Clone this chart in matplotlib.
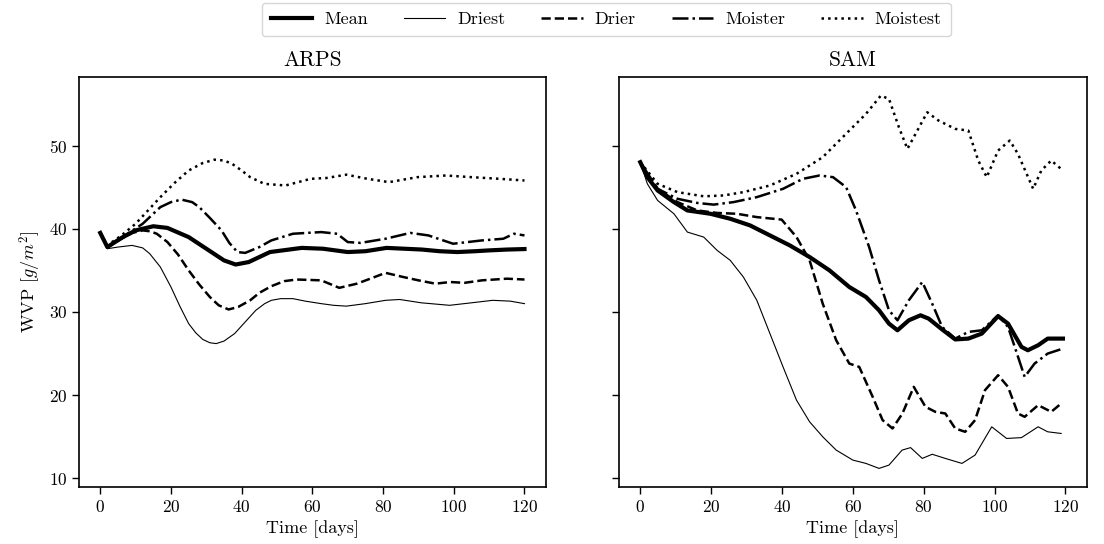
import matplotlib
matplotlib.use("Agg")
import matplotlib.pyplot as plt

plt.rcParams.update({
    "font.family": "serif",
    "font.serif": ["cmr10", "DejaVu Serif"],
    "mathtext.fontset": "cm",
    "axes.formatter.use_mathtext": True,
    "axes.unicode_minus": False,
})

# ---------------- ARPS ----------------
arps_mean_t = [0, 2, 6, 10, 15, 19, 25, 30, 35, 38.3, 42, 48, 57, 63, 70, 75, 81, 86, 91, 96, 101, 106, 110, 115, 120]
arps_mean_v = [39.5, 37.8, 38.9, 39.8, 40.3, 40.1, 39.0, 37.6, 36.2, 35.7, 36.0, 37.2, 37.7, 37.6, 37.2, 37.3, 37.7, 37.6, 37.5, 37.3, 37.2, 37.3, 37.4, 37.5, 37.56]

arps_driest_t = [0, 2, 5, 9, 12, 14, 17, 20, 22.5, 25, 27, 29, 31, 32.8, 35, 38, 41, 44, 46.5, 48.4, 51, 54.5, 58, 62.5, 66, 69.6, 75, 80.7, 84.7, 90.8, 98.8, 105, 111, 116, 120]
arps_driest_v = [39.5, 37.6, 37.8, 38.0, 37.7, 37.0, 35.4, 33.0, 30.7, 28.6, 27.5, 26.7, 26.3, 26.2, 26.5, 27.4, 28.8, 30.2, 31.0, 31.4, 31.6, 31.6, 31.3, 31.0, 30.8, 30.7, 31.0, 31.4, 31.5, 31.1, 30.8, 31.1, 31.4, 31.3, 31.0]

arps_drier_t = [0, 2, 6, 9, 12, 14, 16, 19, 22, 25, 28, 31, 33.5, 36.3, 39, 42.4, 45, 48.4, 52, 55.5, 62.5, 67.6, 72.6, 77, 80.7, 85.7, 90, 94.8, 99, 103, 108, 115, 120]
arps_drier_v = [39.5, 37.8, 38.8, 39.5, 39.8, 39.7, 39.4, 38.4, 36.9, 35.0, 33.3, 31.8, 30.8, 30.3, 30.6, 31.4, 32.3, 33.1, 33.7, 33.9, 33.8, 32.9, 33.4, 34.1, 34.7, 34.2, 33.8, 33.4, 33.6, 33.5, 33.8, 34.0, 33.9]

arps_moister_t = [0, 2, 7, 12, 17, 20, 23, 26, 28, 31, 34.3, 36.5, 38.8, 41, 45, 48.4, 54.5, 62.5, 67, 70, 73.6, 80.7, 87.7, 92.8, 99.8, 108, 114, 117, 120]
arps_moister_v = [39.5, 37.8, 39.2, 40.6, 42.6, 43.2, 43.5, 43.2, 42.6, 41.3, 39.8, 38.3, 37.2, 37.1, 37.8, 38.6, 39.4, 39.6, 39.4, 38.4, 38.3, 38.8, 39.5, 39.2, 38.2, 38.6, 38.8, 39.4, 39.2]

arps_moistest_t = [0, 2, 6, 10, 17, 21, 25, 29, 32.3, 35, 37.3, 40, 42.4, 46.4, 52.4, 59.5, 64, 69.6, 75.6, 81.7, 89.7, 97.8, 105, 113, 120]
arps_moistest_v = [39.5, 38.0, 39.2, 40.6, 43.8, 45.5, 47.0, 47.9, 48.3, 48.2, 47.8, 47.0, 46.2, 45.4, 45.2, 46.0, 46.1, 46.5, 46.0, 45.6, 46.2, 46.4, 46.2, 46.0, 45.8]

# ---------------- SAM ----------------
sam_mean_t = [0, 2, 4.9, 9.5, 13.3, 19.8, 25.4, 31, 36.6, 42.2, 47.8, 53.4, 59, 63.7, 67.4, 70.2, 72.6, 75.8, 79.1, 81.4, 85.2, 88.9, 92.6, 96.4, 101, 103.8, 107.6, 109.4, 112.3, 115, 119.3]
sam_mean_v = [48.0, 46.2, 44.6, 43.2, 42.2, 41.8, 41.2, 40.4, 39.2, 38.0, 36.6, 35.0, 33.0, 31.8, 30.2, 28.6, 27.8, 29.0, 29.6, 29.2, 27.9, 26.7, 26.8, 27.4, 29.5, 28.6, 25.8, 25.4, 26.0, 26.8, 26.8]

sam_driest_t = [0, 2, 4.9, 9.5, 13.3, 17.9, 21.7, 25.4, 29.1, 32.9, 36.6, 40.3, 44.1, 47.8, 51.5, 55.3, 60, 63.7, 67.4, 70.2, 73.9, 76.3, 79.6, 82.4, 86.1, 90.8, 94.5, 99.2, 103.4, 107.6, 112.3, 115, 118.8]
sam_driest_v = [48.0, 45.4, 43.4, 41.8, 39.6, 39.0, 37.4, 36.2, 34.2, 31.4, 27.4, 23.4, 19.4, 16.8, 15.0, 13.4, 12.2, 11.8, 11.2, 11.6, 13.4, 13.7, 12.4, 12.9, 12.4, 11.8, 12.8, 16.2, 14.8, 14.9, 16.2, 15.6, 15.4]

sam_drier_t = [0, 4.9, 10.5, 16.1, 21.7, 27.3, 32.9, 39.9, 44.1, 47.8, 51.5, 55.3, 59, 61.8, 65.6, 68.4, 71.2, 74, 77.2, 80.5, 83.3, 86.1, 88.9, 91.7, 94.5, 97.3, 101, 103.8, 106.6, 108.5, 112.3, 116, 118.8]
sam_drier_v = [48.0, 44.8, 43.2, 42.2, 41.9, 41.8, 41.4, 41.1, 39.0, 36.2, 31.0, 26.6, 23.8, 23.4, 19.8, 17.0, 16.0, 17.8, 21.0, 18.6, 18.0, 17.8, 16.0, 15.6, 17.0, 20.6, 22.4, 21.0, 17.8, 17.4, 18.8, 18.0, 19.0]

sam_moister_t = [0, 4.9, 10.5, 16.1, 20.7, 26.3, 32.9, 40.3, 45.9, 50.6, 54.4, 58.1, 60.9, 64.6, 67.4, 70.2, 72.6, 75.8, 79.6, 82.4, 85.2, 88.9, 92.6, 96.4, 101, 103.8, 105.7, 108.5, 111.3, 115, 119.3]
sam_moister_v = [48.0, 44.8, 43.6, 43.1, 42.9, 43.2, 43.8, 44.8, 46.0, 46.4, 46.2, 45.0, 42.2, 37.8, 33.8, 30.2, 29.0, 31.4, 33.6, 31.0, 28.2, 26.8, 27.6, 27.8, 29.6, 28.2, 25.8, 22.2, 23.8, 25.0, 25.6]

sam_moistest_t = [0, 4.9, 10.5, 17.9, 23.5, 29.1, 36.6, 44.1, 51.5, 59, 63.7, 67.9, 70.2, 73, 75.4, 77.7, 81, 84.2, 88.9, 92.6, 95.4, 97.8, 101, 104.3, 106.6, 110.9, 113.2, 116, 119.3]
sam_moistest_v = [48.0, 45.4, 44.4, 43.9, 44.0, 44.4, 45.2, 46.6, 48.6, 51.8, 53.8, 56.0, 55.6, 52.2, 49.6, 51.4, 54.0, 53.0, 52.0, 51.8, 48.2, 46.2, 49.4, 50.6, 49.0, 44.8, 47.0, 48.2, 47.0]

labels = ["Mean", "Driest", "Drier", "Moister", "Moistest"]
styles = [
    dict(color="black", lw=3.0, ls="-"),
    dict(color="black", lw=0.8, ls="-"),
    dict(color="black", lw=1.8, ls="--"),
    dict(color="black", lw=1.8, ls="-."),
    dict(color="black", lw=1.8, ls=":"),
]

arps = [(arps_mean_t, arps_mean_v), (arps_driest_t, arps_driest_v), (arps_drier_t, arps_drier_v),
        (arps_moister_t, arps_moister_v), (arps_moistest_t, arps_moistest_v)]
sam = [(sam_mean_t, sam_mean_v), (sam_driest_t, sam_driest_v), (sam_drier_t, sam_drier_v),
       (sam_moister_t, sam_moister_v), (sam_moistest_t, sam_moistest_v)]

fig = plt.figure(figsize=(11.04, 5.44), dpi=100)
ax1 = fig.add_axes([0.0716, 0.1053, 0.4227, 0.7526])
ax2 = fig.add_axes([0.5607, 0.1053, 0.4236, 0.7526], sharey=ax1)

handles = []
for ax, data, title in ((ax1, arps, "ARPS"), (ax2, sam, "SAM")):
    for (t, v), st, lab in zip(data, styles, labels):
        h, = ax.plot(t, v, label=lab, **st)
        if ax is ax1:
            handles.append(h)
    ax.set_title(title, fontsize=15.5, pad=8)
    ax.set_xlabel("Time [days]", fontsize=13)
    ax.set_xlim(-6, 126)
    ax.set_xticks([0, 20, 40, 60, 80, 100, 120])
    ax.tick_params(labelsize=12.5, length=5, width=1.0, direction="out")
    for sp in ax.spines.values():
        sp.set_linewidth(1.2)

ax1.set_ylim(9.0, 58.2)
ax1.set_yticks([10, 20, 30, 40, 50])
ax1.set_ylabel("WVP [$g/m^2$]", fontsize=13)
ax2.tick_params(labelleft=False)

leg = fig.legend(handles=handles, labels=labels, loc="upper center",
                 bbox_to_anchor=(0.549, 1.0), ncol=5, fontsize=13,
                 frameon=True, fancybox=True, handlelength=2.3,
                 handletextpad=0.65, columnspacing=2.0, borderpad=0.5,
                 borderaxespad=0.15)
leg.get_frame().set_edgecolor("#cccccc")
leg.get_frame().set_linewidth(1.0)

fig.savefig("out.png", dpi=100)
